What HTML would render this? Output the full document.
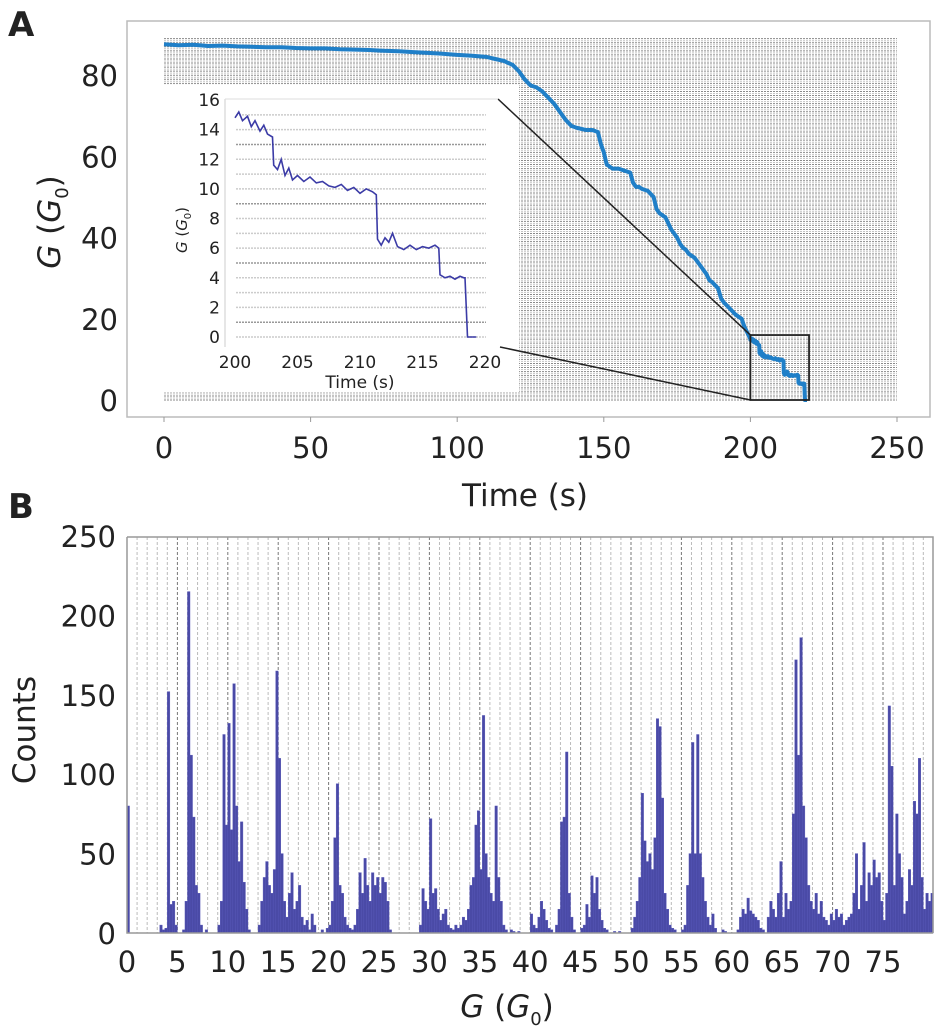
<!DOCTYPE html>
<html><head><meta charset="utf-8"><style>
body{margin:0;background:#fff}
svg{display:block}
text{font-family:"DejaVu Sans","Liberation Sans",sans-serif;fill:#222}
</style></head><body>
<svg id="s" width="942" height="1032" viewBox="0 0 942 1032" xmlns="http://www.w3.org/2000/svg">
<text x="8" y="36" font-size="34" font-weight="bold" font-family="Liberation Sans">A</text>
<text x="8" y="518" font-size="34" font-weight="bold" font-family="Liberation Sans">B</text>
<g id="ga"></g>
<g id="gb"></g>
</svg>
<script>
// Panel A trace data
const traceT=[0,5,10,15,20,25,30,35,40,45,50,55,60,65,70,75,80,85,90,95,100,105,110,113,116,119,121,123,125,127,129,131,133,135,137,139,141,144,146,148,149,150,151,153,155,157,159,160,161,162,163,165,167,168,169,170,171,173,175,176,177,178,179,181,183,185,186,187,189,190,191,193,195,197,198,199,200];
const traceG=[87.6,87.4,87.5,87.2,87.3,87.1,87,86.9,86.9,86.7,86.6,86.6,86.4,86.3,86.2,86,85.9,85.7,85.5,85.3,85,84.8,84.5,84,83.5,82.5,81,79,77.5,77,76,74.5,73,71,69,67.5,67,66.5,66.5,66,63,61,58,57,57,56.5,56,53.5,52.5,52.5,52,51.5,50,47,46,45.5,45,42,40,38.5,37.5,37,36,35,33,31,29.5,29,27.5,25,24,22.5,21,20,18,16.5,15];
// Inset trace data (200-220 s)
const insetT=[200,200.3,200.6,201,201.3,201.6,202,202.3,202.6,203,203.1,203.4,203.7,204,204.3,204.6,205,205.5,206,206.5,207,207.5,208,208.5,209,209.5,210,210.5,211,211.3,211.4,211.7,212,212.3,212.6,213,213.5,214,214.5,215,215.5,216,216.3,216.4,216.8,217.2,217.6,218,218.3,218.4,218.6,219.3];
const insetG=[14.8,15.2,14.6,14.9,14.2,14.6,13.9,14.3,13.7,13.5,11.6,11.3,12,10.9,11.4,10.6,10.9,10.5,10.8,10.4,10.5,10.2,10.1,10.3,9.9,10.1,9.7,10,9.8,9.6,6.6,6.2,6.7,6.4,7,6.1,5.9,6.2,5.9,6.1,6,6.2,6,4.2,4,4.1,3.9,4.1,4,4,0,0];
const aXTicks=[0,50,100,150,200,250];
const aYTicks=[0,20,40,60,80];
const inXTicks=[200,205,210,215,220];
const inYTicks=[0,2,4,6,8,10,12,14,16];
// Panel B histogram data (bin width 0.25 G, G from 0 to 80)
const binWidth=0.25;
const counts=[
80,0,0,0, 0,0,0,0, 0,0,0,0, 0,5,2,3, 152,18,20,5, 0,0,2,20, 215,112,73,30, 25,5,0,2,
0,0,0,0, 5,20,125,68, 132,65,157,80, 45,70,32,15, 2,0,0,0, 5,20,35,45, 30,25,40,165, 110,50,20,10,
25,38,15,20, 30,10,5,8, 2,12,5,0, 0,2,0,3, 5,20,60,94, 30,25,10,5, 3,2,5,15, 38,25,47,30,
20,38,30,35, 25,35,32,20, 2,0,0,0, 0,0,0,0, 0,0,0,0, 5,28,20,15, 72,25,28,15, 8,12,15,5,
3,2,5,3, 5,10,8,15, 30,35,68,77, 40,137,50,35, 25,20,80,35, 20,5,2,0, 2,1,0,1, 0,0,0,0,
12,5,3,10, 20,15,8,3, 2,0,5,15, 70,73,114,25, 10,2,0,0, 3,5,18,10, 36,25,35,15, 8,3,2,0,
0,1,0,1, 0,0,0,0, 3,10,20,35, 88,58,45,50, 40,60,135,130, 85,25,15,5, 3,2,0,0, 2,5,30,50,
120,50,125,50, 35,20,10,5, 12,3,0,0, 2,1,0,0, 0,0,2,10, 15,12,22,14, 12,10,8,3, 2,0,10,20,
15,10,25,45, 10,25,15,20, 75,172,112,186, 80,60,30,20, 15,25,12,20, 10,8,5,12, 8,15,10,12, 5,8,10,12,
25,50,15,30, 57,20,38,30, 46,35,38,20, 8,25,143,105, 30,75,50,35, 12,20,40,30, 83,75,110,35, 15,25,20,25];
const bXTicks=[0,5,10,15,20,25,30,35,40,45,50,55,60,65,70,75];
const bYTicks=[0,50,100,150,200,250];

const NS="http://www.w3.org/2000/svg";
function mk(p,tag,at,txt){const e=document.createElementNS(NS,tag);for(const k in at)e.setAttribute(k,at[k]);if(txt!==undefined)e.textContent=txt;p.appendChild(e);return e;}

// ---------- Panel A ----------
const ga=document.getElementById('ga');
const ax=t=>164+t*(733/250), ay=g=>400-g*4.06;
const frameA=mk(ga,'rect',{x:127,y:21,width:803,height:396,fill:'none',stroke:'#bbb','stroke-width':1.5});


for(let g=0;g<=89;g+=0.5){
  const l=mk(ga,'line',{x1:ax(0),x2:ax(250),y1:ay(g),y2:ay(g),stroke:(g%1?'#c4c4c4':'#8a8a8a'),'stroke-width':1,'stroke-dasharray':'2,1'});
  
  
}
aXTicks.forEach(v=>{
  const t=mk(ga,'text',{x:ax(v),y:458,'font-size':29,'text-anchor':'middle'},v);
  
  
  mk(ga,'line',{x1:ax(v),x2:ax(v),y1:417,y2:422,stroke:'#999'});
});
aYTicks.forEach(v=>{
  const t=mk(ga,'text',{x:118,y:ay(v)+11,'font-size':29,'text-anchor':'end'},v);
  
  
});
const xta=mk(ga,'text',{x:525,y:506,'font-size':31,'text-anchor':'middle'},'Time (s)');


const yta=mk(ga,'text',{transform:'translate(60,222) rotate(-90)','font-size':31,'text-anchor':'middle'});


yta.innerHTML='<tspan font-style="italic">G</tspan> (<tspan font-style="italic">G</tspan><tspan font-size="18" dy="8">0</tspan><tspan dy="-8">)</tspan>';
// main trace
let d='';traceT.forEach((t,i)=>d+=(i?'L':'M')+ax(t).toFixed(1)+','+ay(traceG[i]).toFixed(1));
insetT.forEach((t,i)=>d+='L'+ax(t).toFixed(1)+','+ay(insetG[i]).toFixed(1));
const tr=mk(ga,'path',{d:d,fill:'none',stroke:'#1f7fc8','stroke-width':4,'stroke-linejoin':'round'});


// zoom box
const zb=mk(ga,'rect',{x:ax(200),y:ay(16),width:ax(220)-ax(200),height:ay(0)-ay(16),fill:'none',stroke:'#222','stroke-width':1.8});


// inset
const inset=mk(ga,'rect',{x:163,y:85,width:356,height:307,fill:'#fff'});


const l1=mk(ga,'line',{x1:498,y1:99,x2:ax(200),y2:ay(16),stroke:'#222','stroke-width':1.5});


const l2=mk(ga,'line',{x1:500,y1:347,x2:ax(200),y2:ay(0),stroke:'#222','stroke-width':1.5});


const ix=t=>235+(t-200)*(250/20), iy=g=>337-g*(237/16);
mk(ga,'line',{x1:225,y1:99,x2:225,y2:347,stroke:'#ccc'});
mk(ga,'line',{x1:225,y1:99,x2:498,y2:99,stroke:'#ddd'});
for(let g=1;g<=15;g+=1){
  const l=mk(ga,'line',{x1:236,x2:486,y1:iy(g),y2:iy(g),stroke:(g%4===1?'#999':'#ccc'),'stroke-width':1.5,'stroke-dasharray':'2,1'});
  
  
}
mk(ga,'line',{x1:236,x2:486,y1:iy(0),y2:iy(0),stroke:'#ccc','stroke-width':1.5,'stroke-dasharray':'2,1'});
inXTicks.forEach(v=>{
  const t=mk(ga,'text',{x:ix(v),y:368,'font-size':17,'text-anchor':'middle'},v);
  
  
});
inYTicks.forEach(v=>{
  const t=mk(ga,'text',{x:220,y:iy(v)+6,'font-size':17,'text-anchor':'end'},v);
  
  
});
const ixt=mk(ga,'text',{x:360,y:388,'font-size':17,'text-anchor':'middle'},'Time (s)');


const iyt=mk(ga,'text',{transform:'translate(187,230) rotate(-90)','font-size':15,'text-anchor':'middle'});


iyt.innerHTML='<tspan font-style="italic">G</tspan> (<tspan font-style="italic">G</tspan><tspan font-size="10" dy="4">0</tspan><tspan dy="-4">)</tspan>';
let di='';insetT.forEach((t,i)=>di+=(i?'L':'M')+ix(t).toFixed(1)+','+iy(insetG[i]).toFixed(1));
const it=mk(ga,'path',{d:di,fill:'none',stroke:'#3b3ba6','stroke-width':1.6});



// ---------- Panel B ----------
const gb=document.getElementById('gb');
const bx=g=>127+g*10.08, by=c=>933-c*(397/250);
for(let g=1;g<80;g++){
  const l=mk(gb,'line',{x1:bx(g),x2:bx(g),y1:537,y2:933,stroke:(g%5===0?'#777':'#bbb'),'stroke-width':1,'stroke-dasharray':'3,2'});
  
  
}
counts.forEach((c,i)=>{
  if(!c)return;
  const r=mk(gb,'rect',{x:bx(i*binWidth),y:by(c),width:binWidth*10.08,height:933-by(c),fill:'#4a4aa6',stroke:'#5656b8','stroke-width':0.4});
  
  
});
const fb=mk(gb,'path',{d:'M127,537H933V933M127,537V933H933',fill:'none',stroke:'#999','stroke-width':1.5});


bXTicks.forEach(v=>{
  const t=mk(gb,'text',{x:bx(v),y:972,'font-size':29,'text-anchor':'middle'},v);
  
  
});
bYTicks.forEach(v=>{
  const t=mk(gb,'text',{x:116,y:by(v)+11,'font-size':29,'text-anchor':'end'},v);
  
  
});
const xtb=mk(gb,'text',{x:507,y:1017,'font-size':31,'text-anchor':'middle'});


xtb.innerHTML='<tspan font-style="italic">G</tspan> (<tspan font-style="italic">G</tspan><tspan font-size="18" dy="8">0</tspan><tspan dy="-8">)</tspan>';
const ytb=mk(gb,'text',{transform:'translate(35,730) rotate(-90)','font-size':31,'text-anchor':'middle'},'Counts');


</script>
</body></html>
